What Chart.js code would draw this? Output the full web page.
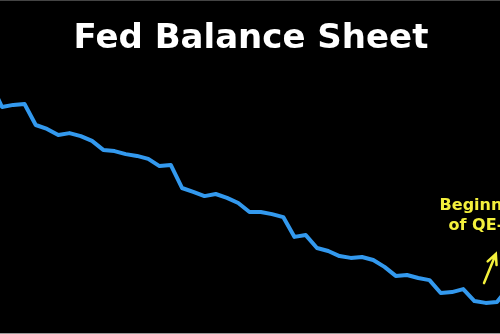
<!DOCTYPE html>
<html lang="en">
<head>
  <meta charset="UTF-8">
  <title>Fed Balance Sheet</title>
  <script src="https://cdn.jsdelivr.net/npm/chart.js"></script>
  <style>
    html, body { margin: 0; padding: 0; background: #000; }
    #wrap { width: 500px; height: 334px; }
  </style>
</head>
<body>
  <div id="wrap"><canvas id="fedChart"></canvas></div>
  <script>
    // weekly observations (index), total assets in $ trillions
    const weeks = [-1, 0, 1, 2, 3, 4, 5, 6, 7, 8, 9, 10, 11, 12, 13, 14, 15, 16, 17, 18, 19, 20, 21, 22,
                   23, 24, 25, 26, 27, 28, 29, 30, 31, 32, 33, 34, 35, 36, 37, 38, 39, 40, 41, 42, 43, 44, 45];
    const assets = [4.490, 4.410, 4.417, 4.420, 4.350, 4.337, 4.317, 4.323, 4.313, 4.297, 4.267, 4.263,
                    4.253, 4.247, 4.237, 4.213, 4.217, 4.140, 4.127, 4.113, 4.120, 4.107, 4.090, 4.060,
                    4.060, 4.053, 4.043, 3.977, 3.983, 3.940, 3.930, 3.913, 3.907, 3.910, 3.900, 3.877,
                    3.847, 3.850, 3.840, 3.833, 3.790, 3.793, 3.803, 3.763, 3.757, 3.760, 3.807];
    const titleText = 'Fed Balance Sheet';
    const noteLines = ['Beginning', 'of QE-4'];

    const points = weeks.map((w, i) => ({ x: w, y: assets[i] }));

    // title, QE-4 note and arrow drawn on top of the plot
    const overlay = {
      id: 'overlay',
      afterDraw(chart) {
        const ctx = chart.ctx;
        const x = chart.scales.x, y = chart.scales.y;
        ctx.save();
        ctx.fillStyle = '#444';
        ctx.fillRect(0, 0, chart.width, 1);
        ctx.fillStyle = '#999';
        ctx.fillRect(0, chart.height - 1, chart.width, 1);

        ctx.fillStyle = '#fff';
        ctx.font = 'bold 34px "DejaVu Sans", Verdana, sans-serif';
        ctx.textAlign = 'center';
        ctx.textBaseline = 'alphabetic';
        ctx.fillText(titleText, chart.width / 2 + 1, 48);

        ctx.fillStyle = '#f3f03c';
        ctx.font = 'bold 16px "DejaVu Sans", Verdana, sans-serif';
        ctx.textAlign = 'left';
        ctx.fillText(noteLines[0], x.getPixelForValue(38.9), y.getPixelForValue(4.067));
        ctx.fillText(noteLines[1], x.getPixelForValue(39.7), y.getPixelForValue(4.067) + 20);

        // arrow
        const x0 = x.getPixelForValue(42.85), y0 = y.getPixelForValue(3.823);
        const x1 = x.getPixelForValue(43.9), y1 = y.getPixelForValue(3.92);
        const ang = Math.atan2(y1 - y0, x1 - x0);
        ctx.strokeStyle = '#f3f03c';
        ctx.lineWidth = 2.5;
        ctx.lineCap = 'round';
        ctx.beginPath();
        ctx.moveTo(x0, y0);
        ctx.lineTo(x1, y1);
        ctx.moveTo(x1 - 11 * Math.cos(ang - 0.45), y1 - 11 * Math.sin(ang - 0.45));
        ctx.lineTo(x1, y1);
        ctx.lineTo(x1 - 11 * Math.cos(ang + 0.45), y1 - 11 * Math.sin(ang + 0.45));
        ctx.stroke();
        ctx.restore();
      }
    };

    new Chart(document.getElementById('fedChart'), {
      type: 'line',
      data: {
        datasets: [{
          data: points,
          borderColor: '#3399ee',
          borderWidth: 4,
          pointRadius: 0,
          tension: 0,
          borderJoinStyle: 'round',
          fill: false
        }]
      },
      options: {
        responsive: true,
        maintainAspectRatio: false,
        animation: false,
        layout: { padding: 0 },
        plugins: { legend: { display: false }, tooltip: { enabled: false } },
        scales: {
          x: { type: 'linear', min: -0.18, max: 44.27, display: false },
          y: { min: 3.6533, max: 4.7667, display: false }
        }
      },
      plugins: [overlay]
    });
  </script>
</body>
</html>
